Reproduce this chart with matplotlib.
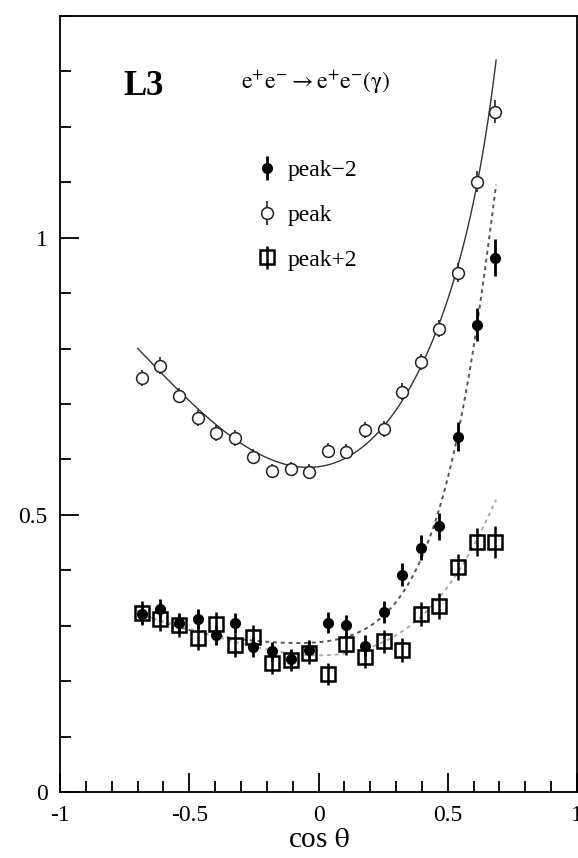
import numpy as np
import matplotlib
matplotlib.use("Agg")
import matplotlib.pyplot as plt
from matplotlib.ticker import MultipleLocator

plt.rcParams['font.family'] = ['Liberation Serif', 'DejaVu Serif']
plt.rcParams['mathtext.fontset'] = 'stix'

# bin centres in cos(theta)
cos_theta = [-0.684, -0.612, -0.540, -0.468, -0.396, -0.324, -0.252, -0.180, -0.108, -0.036,
             0.036, 0.108, 0.180, 0.252, 0.324, 0.396, 0.468, 0.540, 0.612, 0.684]

# peak-2 (filled circles)
peak_m2 = [0.322, 0.330, 0.305, 0.312, 0.283, 0.305, 0.262, 0.254, 0.240, 0.256,
           0.305, 0.301, 0.264, 0.325, 0.392, 0.441, 0.479, 0.641, 0.843, 0.964]
peak_m2_err = [0.018, 0.018, 0.018, 0.018, 0.018, 0.018, 0.018, 0.017, 0.017, 0.018,
               0.019, 0.019, 0.019, 0.020, 0.021, 0.022, 0.024, 0.026, 0.030, 0.034]

# peak (open circles)
peak = [0.747, 0.769, 0.715, 0.675, 0.648, 0.639, 0.605, 0.579, 0.583, 0.578,
        0.616, 0.614, 0.653, 0.655, 0.722, 0.776, 0.836, 0.937, 1.101, 1.227]
peak_err = [0.015, 0.015, 0.014, 0.014, 0.014, 0.014, 0.013, 0.013, 0.013, 0.013,
            0.013, 0.013, 0.014, 0.014, 0.015, 0.015, 0.016, 0.017, 0.019, 0.021]

# peak+2 (open squares)
peak_p2 = [0.323, 0.312, 0.301, 0.278, 0.303, 0.265, 0.280, 0.233, 0.238, 0.251,
           0.213, 0.267, 0.244, 0.272, 0.256, 0.321, 0.336, 0.406, 0.451, 0.451]
peak_p2_err = [0.022, 0.022, 0.021, 0.021, 0.021, 0.021, 0.021, 0.020, 0.020, 0.020,
               0.020, 0.020, 0.021, 0.021, 0.021, 0.022, 0.023, 0.024, 0.026, 0.028]

# theory curves at a few cos(theta) values
curve_x = [-0.70, -0.61, -0.47, -0.32, -0.18, -0.04, 0.11, 0.25, 0.40, 0.54, 0.61, 0.687]
curve_peak = [0.796, 0.765, 0.690, 0.635, 0.597, 0.585, 0.607, 0.660, 0.768, 0.950, 1.09, 1.32]
curve_m2 = [0.322, 0.312, 0.295, 0.278, 0.262, 0.262, 0.285, 0.330, 0.420, 0.630, 0.850, 1.092]
curve_p2 = [0.320, 0.308, 0.290, 0.272, 0.255, 0.246, 0.250, 0.272, 0.318, 0.395, 0.455, 0.527]


def smooth_curve(xk, yk, xs):
    """Least-squares fit of a Bhabha-like shape through the read points."""
    xk = np.asarray(xk)
    basis = lambda c: np.column_stack([np.ones_like(c), c, c**2, c**3, 1/(1-c), 1/(1-c)**2])
    coef, *_ = np.linalg.lstsq(basis(xk), np.asarray(yk), rcond=None)
    return basis(xs) @ coef


fig = plt.figure(figsize=(5.78, 8.58), dpi=100)
ax = fig.add_axes([0.1038, 0.0769, 0.8945, 0.9045])

xs = np.linspace(curve_x[0], curve_x[-1], 300)
ax.plot(xs, smooth_curve(curve_x, curve_peak, xs), color='#333333', lw=1.0, zorder=1)
ax.plot(xs, smooth_curve(curve_x, curve_m2, xs), color='#555555', lw=1.4,
        linestyle=(0, (2, 2)), zorder=1)
ax.plot(xs, smooth_curve(curve_x, curve_p2, xs), color='#aaaaaa', lw=1.4,
        linestyle=(0, (2, 2)), zorder=1)

h1 = ax.errorbar(cos_theta, peak_m2, yerr=peak_m2_err, fmt='o', ms=7, color='black',
                 mfc='black', mec='black', elinewidth=2, capsize=0, zorder=3, label='peak\u22122')
h2 = ax.errorbar(cos_theta, peak, yerr=peak_err, fmt='o', ms=8.5, color='#222222',
                 mfc='white', mec='#222222', mew=1.1, elinewidth=1.2, capsize=0, zorder=2, label='peak')
h3 = ax.errorbar(cos_theta, peak_p2, yerr=peak_p2_err, fmt='s', ms=10, color='black',
                 mfc='none', mec='black', mew=1.8, elinewidth=1.8, capsize=0, zorder=3, label='peak+2')

ax.set_xlim(-1, 1)
ax.set_ylim(0, 1.4)
ax.xaxis.set_major_locator(MultipleLocator(0.5))
ax.xaxis.set_minor_locator(MultipleLocator(0.1))
ax.yaxis.set_major_locator(MultipleLocator(0.5))
ax.yaxis.set_minor_locator(MultipleLocator(0.1))
ax.set_xticks([-1, -0.5, 0, 0.5, 1])
ax.set_xticklabels(['-1', '-0.5', '0', '0.5', '1'])
ax.set_yticks([0, 0.5, 1])
ax.set_yticklabels(['0', '0.5', '1'])
ax.tick_params(which='both', direction='in', top=False, right=False, labelsize=17, width=1.3)
ax.tick_params(which='major', length=14, pad=9)
ax.tick_params(which='minor', length=8)
for s in ax.spines.values():
    s.set_linewidth(1.3)

ax.set_xlabel(r'cos $\mathrm{\theta}$', fontsize=21, labelpad=1)

ax.text(-0.755, 1.272, 'L3', fontsize=25, fontweight='bold', va='center', ha='left')
ax.text(-0.30, 1.28, r'$\mathrm{e^{+}e^{-}\rightarrow e^{+}e^{-}(\gamma)}$', fontsize=17,
        va='center', ha='left')

ax.legend(handles=[h1, h2, h3], loc='upper left', bbox_to_anchor=(0.336, 0.842),
          frameon=False, fontsize=17, handlelength=1.0, handletextpad=0.4, labelspacing=0.98)

fig.savefig('out.png', dpi=100)
